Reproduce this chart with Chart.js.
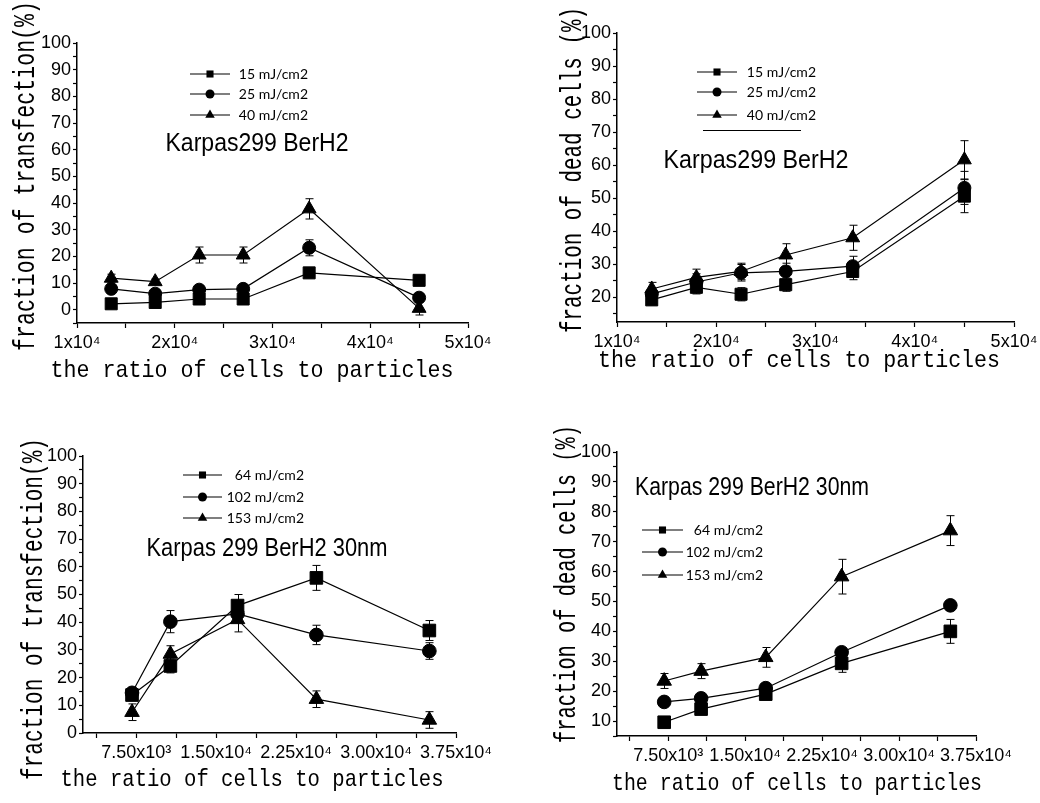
<!DOCTYPE html>
<html>
<head>
<meta charset="utf-8">
<script src="https://cdn.jsdelivr.net/npm/chart.js@4.4.1/dist/chart.umd.min.js"></script>
<style>
  body { margin: 0; background: #fff; }
  #wrap { position: relative; width: 1040px; height: 803px; }
  #wrap canvas { position: absolute; left: 0; top: 0; }
</style>
</head>
<body>
<div id="wrap">
  <canvas id="c1" width="1040" height="803"></canvas>
  <canvas id="c2" width="1040" height="803"></canvas>
  <canvas id="c3" width="1040" height="803"></canvas>
  <canvas id="c4" width="1040" height="803"></canvas>
</div>
<script>
// cells : particles ratios used in the two experiments
const ratioA = [13500, 18000, 22500, 27000, 33750, 45000];
const ratioB = [7100, 10700, 17000, 24400, 35000];

const fluenceA = ['15 mJ/cm2', '25 mJ/cm2', '40 mJ/cm2'];
const fluenceB = ['64 mJ/cm2', '102 mJ/cm2', '153 mJ/cm2'];

// top left - transfection, Karpas299 BerH2
const transA15 = [2.2, 2.7, 4, 4, 13.8, 11];
const transA25 = [7.8, 6, 7.5, 7.8, 23.2, 4.5];
const transA40 = [11.8, 10.5, 20.5, 20.5, 37.8, 0.5];
const transA15Err = [0.8, 0.8, 1, 1, 1.5, 1];
const transA25Err = [1, 1, 1, 1, 3, 1];
const transA40Err = [1.5, 1, 3, 3, 3.8, 2.5];

// top right - dead cells, Karpas299 BerH2
const deadA15 = [19.2, 23, 20.9, 23.8, 27.8, 50.6];
const deadA25 = [21, 24.6, 27.4, 27.8, 29.4, 53.1];
const deadA40 = [22.5, 26, 27.8, 32.8, 38, 61.6];
const deadA15Err = [1.5, 2, 2, 2, 2.5, 5];
const deadA25Err = [1.5, 2.5, 2.5, 2.5, 3, 5];
const deadA40Err = [2, 2.5, 2.5, 3.4, 3.8, 5.8];

// bottom left - transfection, Karpas 299 BerH2 30nm
const transB64 = [13.7, 24.2, 46, 56, 37];
const transB102 = [14.5, 40.2, 43, 35.4, 29.6];
const transB153 = [7.5, 28.5, 41, 12.2, 4.7];
const transB64Err = [2, 2.5, 4, 4.5, 3.6];
const transB102Err = [2, 4, 3, 3.5, 3];
const transB153Err = [3, 3, 4.5, 3, 3];

// bottom right - dead cells, Karpas 299 BerH2 30nm
const deadB64 = [9.6, 14, 19, 29.3, 40];
const deadB102 = [16.4, 17.6, 21, 33, 48.7];
const deadB153 = [23.4, 26.7, 31.3, 58.3, 73.7];
const deadB64Err = [1, 1.5, 1.5, 3, 4];
const deadB102Err = [1, 1, 1.5, 1.5, 1.5];
const deadB153Err = [2.5, 2.5, 3.3, 5.8, 5];

// tick labels
const xTicksA = [10000, 20000, 30000, 40000, 50000];
const xLabelsA = ['1x10\u2074', '2x10\u2074', '3x10\u2074', '4x10\u2074', '5x10\u2074'];
const xTicksB = [7500, 15000, 22500, 30000, 37500];
const xLabelsB = ['7.50x10\u00b3', '1.50x10\u2074', '2.25x10\u2074', '3.00x10\u2074', '3.75x10\u2074'];
const yTicks = [0, 10, 20, 30, 40, 50, 60, 70, 80, 90, 100];

const markers = ['rect', 'circle', 'triangle'];
const plotRadius = { rect: 8.5, circle: 6.5, triangle: 8 };
const legendRadius = { rect: 5, circle: 4.5, triangle: 5.5 };

function drawMarker(ctx, style, r, x, y) {
  ctx.beginPath();
  if (style === 'rect') {
    const s = r * Math.SQRT1_2;
    ctx.rect(x - s, y - s, 2 * s, 2 * s);
  } else if (style === 'circle') {
    ctx.arc(x, y, r, 0, Math.PI * 2);
  } else {
    ctx.moveTo(x, y - r);
    ctx.lineTo(x + r * 0.866, y + r * 0.5);
    ctx.lineTo(x - r * 0.866, y + r * 0.5);
    ctx.closePath();
  }
  ctx.fill();
}

// error bars drawn under the markers, through the chart scales
const errorBars = {
  id: 'errorBars',
  beforeDatasetsDraw(chart) {
    const { ctx, scales: { x, y } } = chart;
    ctx.save();
    ctx.strokeStyle = '#000';
    ctx.lineWidth = 1;
    chart.data.datasets.forEach((ds) => {
      ds.data.forEach((p, k) => {
        const e = ds.errors[k];
        const px = Math.round(x.getPixelForValue(p.x)) + 0.5;
        const top = y.getPixelForValue(p.y + e);
        const bot = y.getPixelForValue(p.y - e);
        ctx.beginPath();
        ctx.moveTo(px, top);
        ctx.lineTo(px, bot);
        ctx.moveTo(px - 4, top);
        ctx.lineTo(px + 4, top);
        ctx.moveTo(px - 4, bot);
        ctx.lineTo(px + 4, bot);
        ctx.stroke();
      });
    });
    ctx.restore();
  },
};

function fitText(ctx, text, x, y, width, rotate) {
  const w = ctx.measureText(text).width;
  ctx.save();
  ctx.translate(x, y);
  if (rotate) ctx.rotate(-Math.PI / 2);
  ctx.scale(width / w, 1);
  ctx.fillText(text, 0, 0);
  ctx.restore();
}

// panel title, axis titles and the little legend
const panelText = {
  id: 'panelText',
  afterDraw(chart, args, o) {
    const { ctx } = chart;
    ctx.save();
    ctx.fillStyle = '#000';
    ctx.strokeStyle = '#000';
    ctx.textAlign = 'center';

    ctx.font = '25px "Liberation Sans"';
    ctx.textBaseline = 'middle';
    fitText(ctx, o.title, o.titlePos[0], o.titlePos[1], o.titlePos[2], false);

    ctx.textBaseline = 'alphabetic';
    ctx.font = '24px "Liberation Mono"';
    fitText(ctx, o.xTitle, o.xTitlePos[0], o.xTitlePos[1], o.xTitlePos[2], false);
    ctx.font = '30px "Liberation Mono"';
    fitText(ctx, o.yTitle, o.yTitlePos[0], o.yTitlePos[1], o.yTitlePos[2], true);

    const lg = o.legend;
    ctx.font = '14px Lato';
    ctx.textAlign = 'right';
    ctx.textBaseline = 'middle';
    ctx.lineWidth = 1.2;
    chart.data.datasets.forEach((ds, i) => {
      const ry = lg.rows[i];
      ctx.beginPath();
      ctx.moveTo(lg.x0, ry);
      ctx.lineTo(lg.x1, ry);
      ctx.stroke();
      drawMarker(ctx, ds.pointStyle, legendRadius[ds.pointStyle], (lg.x0 + lg.x1) / 2, ry);
      ctx.fillText(ds.label, lg.textRight, ry);
    });
    if (lg.underline) {
      ctx.lineWidth = 1;
      ctx.beginPath();
      ctx.moveTo(lg.underline[0], lg.underline[2]);
      ctx.lineTo(lg.underline[1], lg.underline[2]);
      ctx.stroke();
    }
    ctx.restore();
  },
};

function series(xs, ys, errs, label, i, grow) {
  const style = markers[i];
  return {
    label,
    data: xs.map((x, k) => ({ x, y: ys[k] })),
    errors: errs,
    borderColor: '#000',
    backgroundColor: '#000',
    borderWidth: 1.2,
    pointStyle: style,
    pointRadius: plotRadius[style] * grow,
    pointBorderWidth: 1,
    pointBackgroundColor: '#000',
    pointBorderColor: '#000',
    tension: 0,
  };
}

function tickGrid(min, max, step) {
  const out = [];
  for (let v = Math.ceil(min / step) * step; v <= max + 1e-9; v += step) out.push(v);
  return out;
}

function axis(min, max, step, isX, labelFor) {
  return {
    type: 'linear',
    min,
    max,
    afterBuildTicks: (s) => { s.ticks = tickGrid(min, max, step).map((v) => ({ value: v })); },
    afterFit: (s) => {
      if (isX) { s.height = 40; s.paddingLeft = 0; s.paddingRight = 0; }
      else { s.width = 60; s.paddingTop = 0; s.paddingBottom = 0; }
    },
    ticks: {
      autoSkip: false,
      maxRotation: 0,
      color: '#000',
      padding: isX ? 4 : 2,
      font: { family: 'Liberation Sans', size: 18 },
      callback: labelFor,
    },
    grid: {
      drawOnChartArea: false,
      drawTicks: true,
      tickLength: isX ? 5 : 4,
      tickColor: '#000',
      tickWidth: 1.2,
      color: '#000',
    },
    border: { display: true, color: '#000', width: 1.5 },
  };
}

const yLabel = (v) => (yTicks.includes(v) ? String(v) : '');
const xLabelA = (v) => { const k = xTicksA.indexOf(v); return k < 0 ? '' : xLabelsA[k]; };
const xLabelB = (v) => { const k = xTicksB.indexOf(v); return k < 0 ? '' : xLabelsB[k]; };

function makeChart(id, datasets, xScale, yScale, area, text) {
  return new Chart(document.getElementById(id), {
    type: 'line',
    data: { datasets },
    options: {
      responsive: false,
      animation: false,
      events: [],
      layout: {
        padding: { left: area.left - 60, right: 1040 - area.right, top: area.top, bottom: 803 - area.bottom - 40 },
      },
      scales: { x: xScale, y: yScale },
      plugins: { legend: { display: false }, tooltip: { enabled: false }, panelText: text },
    },
    plugins: [errorBars, panelText],
  });
}

makeChart('c1',
  [
    series(ratioA, transA15, transA15Err, fluenceA[0], 0, 1),
    series(ratioA, transA25, transA25Err, fluenceA[1], 1, 1),
    series(ratioA, transA40, transA40Err, fluenceA[2], 2, 1),
  ],
  axis(10000, 50000, 5000, true, xLabelA),
  axis(-5, 100, 5, false, yLabel),
  { left: 77, right: 468, top: 43, bottom: 323 },
  {
    title: 'Karpas299 BerH2', titlePos: [257, 144, 183],
    xTitle: 'the ratio of cells to particles', xTitlePos: [252, 377, 403],
    yTitle: 'fraction of transfection(%)', yTitlePos: [34, 176, 350],
    legend: { x0: 190, x1: 230, textRight: 308, rows: [74, 94, 115] },
  });

makeChart('c2',
  [
    series(ratioA, deadA15, deadA15Err, fluenceA[0], 0, 1),
    series(ratioA, deadA25, deadA25Err, fluenceA[1], 1, 1),
    series(ratioA, deadA40, deadA40Err, fluenceA[2], 2, 1),
  ],
  axis(10000, 50000, 5000, true, xLabelA),
  axis(12.5, 100, 5, false, yLabel),
  { left: 617, right: 1014, top: 33, bottom: 322 },
  {
    title: 'Karpas299 BerH2', titlePos: [756, 161, 185],
    xTitle: 'the ratio of cells to particles', xTitlePos: [799, 367, 402],
    yTitle: 'fraction of dead cells (%)', yTitlePos: [581, 170, 326],
    legend: { x0: 697, x1: 737, textRight: 816, rows: [72, 92, 115], underline: [703, 801, 130.5] },
  });

makeChart('c3',
  [
    series(ratioB, transB64, transB64Err, fluenceB[0], 0, 1.05),
    series(ratioB, transB102, transB102Err, fluenceB[1], 1, 1.05),
    series(ratioB, transB153, transB153Err, fluenceB[2], 2, 1.05),
  ],
  axis(2500, 37500, 3750, true, xLabelB),
  axis(0, 100, 5, false, yLabel),
  { left: 83, right: 456, top: 456, bottom: 733 },
  {
    title: 'Karpas 299 BerH2 30nm', titlePos: [267, 549, 241],
    xTitle: 'the ratio of cells to particles', xTitlePos: [252, 786, 383],
    yTitle: 'fraction of transfection(%)', yTitlePos: [42, 609, 342],
    legend: { x0: 183, x1: 222, textRight: 304, rows: [475, 497, 518] },
  });

makeChart('c4',
  [
    series(ratioB, deadB64, deadB64Err, fluenceB[0], 0, 1.05),
    series(ratioB, deadB102, deadB102Err, fluenceB[1], 1, 1.05),
    series(ratioB, deadB153, deadB153Err, fluenceB[2], 2, 1.05),
  ],
  axis(2500, 37500, 3750, true, xLabelB),
  axis(5, 100, 5, false, yLabel),
  { left: 617, right: 976, top: 452, bottom: 736 },
  {
    title: 'Karpas 299 BerH2 30nm', titlePos: [752, 488, 234],
    xTitle: 'the ratio of cells to particles', xTitlePos: [797, 790, 370],
    yTitle: 'fraction of dead cells (%)', yTitlePos: [575, 584, 318],
    legend: { x0: 642, x1: 683, textRight: 763, rows: [530, 552, 575] },
  });
</script>
</body>
</html>
